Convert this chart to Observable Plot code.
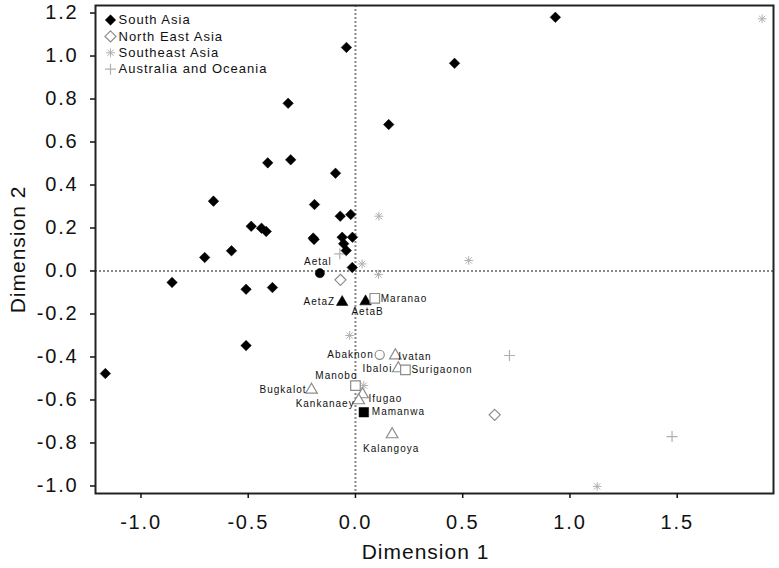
<!DOCTYPE html>
<html><head><meta charset="utf-8">
<script src="https://cdn.jsdelivr.net/npm/d3@7"></script>
<script src="https://cdn.jsdelivr.net/npm/@observablehq/plot@0.6"></script>
<style>
html,body{margin:0;padding:0;background:#fff;}
svg text{font-family:"Liberation Sans",Arial,Helvetica,sans-serif;letter-spacing:1px;}
g[aria-label="x-axis tick label"] text, g[aria-label="y-axis tick label"] text{letter-spacing:1.8px;}
</style></head><body><div id="chart"></div>
<script>
// ---- data ----
const groups = ["South Asia", "North East Asia", "Southeast Asia", "Australia and Oceania"];

const southAsiaX = [-0.314, 0.155, -0.409, -0.302, -0.093, -0.662, -0.191, -0.071, -0.022, -0.486, -0.438, -0.416, -0.197, -0.193, -0.062, -0.014, -0.055, -0.043, -0.578, -0.703, -0.015, -0.855, -0.510, -0.387, -0.510, -1.166, -0.042, 0.462, 0.932];
const southAsiaY = [0.780, 0.681, 0.503, 0.517, 0.455, 0.325, 0.309, 0.255, 0.263, 0.208, 0.199, 0.184, 0.153, 0.147, 0.157, 0.157, 0.127, 0.095, 0.094, 0.063, 0.016, -0.053, -0.085, -0.077, -0.347, -0.477, 1.040, 0.966, 1.180];

const northEastAsiaX = [0.649, -0.070];
const northEastAsiaY = [-0.669, -0.041];

const southeastAsiaX = [0.109, 0.528, 1.896, 1.127, 0.039, -0.027, 0.031, 0.107];
const southeastAsiaY = [0.255, 0.049, 1.173, -1.002, -0.533, -0.300, 0.033, -0.016];

const oceaniaX = [0.718, 1.476, -0.073];
const oceaniaY = [-0.393, -0.770, 0.080];

const popNames  = ["Aetal", "AetaZ", "AetaB", "Maranao", "Abaknon", "Ivatan", "Ibaloi", "Surigaonon", "Manobo", "Bugkalot", "Ifugao", "Kankanaey", "Mamanwa", "Kalangoya"];
const popX      = [-0.166, -0.062, 0.047, 0.090, 0.113, 0.186, 0.200, 0.233, 0.000, -0.205, 0.033, 0.015, 0.039, 0.171];
const popY      = [-0.010, -0.145, -0.142, -0.127, -0.390, -0.393, -0.453, -0.460, -0.533, -0.553, -0.574, -0.602, -0.657, -0.760];
const popShape  = ["circle", "triangle", "triangle", "square", "circle", "triangle", "triangle", "square", "square", "triangle", "triangle", "triangle", "square", "triangle"];
const popFilled = [true, true, true, false, false, false, false, false, false, false, false, false, true, false];

const xTicks = [-1.0, -0.5, 0.0, 0.5, 1.0, 1.5];
const yTicks = [-1.0, -0.8, -0.6, -0.4, -0.2, 0.0, 0.2, 0.4, 0.6, 0.8, 1.0, 1.2];

// ---- build tables ----
const zip = (xs, ys) => xs.map((x, i) => ({x, y: ys[i]}));
const southAsia = zip(southAsiaX, southAsiaY);
const northEastAsia = zip(northEastAsiaX, northEastAsiaY);
const southeastAsia = zip(southeastAsiaX, southeastAsiaY);
const oceania = zip(oceaniaX, oceaniaY);
const pops = popNames.map((name, i) => ({name, x: popX[i], y: popY[i], shape: popShape[i], filled: popFilled[i]}));

// ---- symbols ----
const diamond = {draw(ctx, size) { const s = Math.sqrt(size / 2); ctx.moveTo(0, -s); ctx.lineTo(s, 0); ctx.lineTo(0, s); ctx.lineTo(-s, 0); ctx.closePath(); }};
const star = {draw(ctx, size) { const r = Math.sqrt(size / Math.PI); const d = r * 0.72;
  ctx.moveTo(-r, 0); ctx.lineTo(r, 0); ctx.moveTo(0, -r); ctx.lineTo(0, r);
  ctx.moveTo(-d, -d); ctx.lineTo(d, d); ctx.moveTo(-d, d); ctx.lineTo(d, -d); }};
const plus = {draw(ctx, size) { const r = Math.sqrt(size / Math.PI);
  ctx.moveTo(-r, 0); ctx.lineTo(r, 0); ctx.moveTo(0, -r); ctx.lineTo(0, r); }};

const gray = "#8c8c8c";
const lightGray = "#b0b0b0";

const groupStyle = [
  {symbol: diamond, r: 4.2, fill: "black", stroke: "black", strokeWidth: 0.5},
  {symbol: diamond, r: 4.4, fill: "white", stroke: gray, strokeWidth: 1.2},
  {symbol: star, r: 4.4, fill: "none", stroke: lightGray, strokeWidth: 1},
  {symbol: plus, r: 5.5, fill: "none", stroke: lightGray, strokeWidth: 1.2}
];
const groupData = [southAsia, northEastAsia, southeastAsia, oceania];

const shapeR = {circle: 4.6, triangle: 4.3, square: 5.4};

const labelLayout = {
  Aetal: {anchor: "middle", dx: -2, dy: -11},
  AetaZ: {anchor: "end", dx: -7, dy: 0},
  AetaB: {anchor: "middle", dx: 2, dy: 10},
  Maranao: {anchor: "start", dx: 6, dy: 0},
  Abaknon: {anchor: "end", dx: -6, dy: 0},
  Ivatan: {anchor: "start", dx: 3, dy: 1},
  Ibaloi: {anchor: "end", dx: -6, dy: 0},
  Surigaonon: {anchor: "start", dx: 6, dy: 0},
  Manobo: {anchor: "end", dx: 2, dy: -10},
  Bugkalot: {anchor: "end", dx: -5, dy: 0},
  Ifugao: {anchor: "start", dx: 6, dy: 4},
  Kankanaey: {anchor: "end", dx: -4, dy: 3},
  Mamanwa: {anchor: "start", dx: 8, dy: 0},
  Kalangoya: {anchor: "middle", dx: -1, dy: 14}
};

const fmt = d => (Math.abs(d) < 1e-9 ? 0 : d).toFixed(1);

const marks = [];
// reference lines
marks.push(Plot.ruleX([0], {stroke: "#888", strokeWidth: 2, strokeDasharray: "2,2"}));
marks.push(Plot.ruleY([0], {stroke: "#888", strokeWidth: 2, strokeDasharray: "2,2"}));

// group points (draw light ones first)
[3, 2, 1, 0].forEach(g => {
  const s = groupStyle[g];
  marks.push(Plot.dot(groupData[g], {x: "x", y: "y", ...s}));
});

// labelled populations
["circle", "triangle", "square"].forEach(shape => {
  [false, true].forEach(filled => {
    const data = pops.filter(d => d.shape === shape && d.filled === filled);
    if (!data.length) return;
    marks.push(Plot.dot(data, {x: "x", y: "y", symbol: shape, r: shapeR[shape],
      fill: filled ? "black" : "white", stroke: filled ? "black" : gray, strokeWidth: filled ? 0.5 : 1.2}));
  });
});
pops.forEach(d => {
  const L = labelLayout[d.name];
  marks.push(Plot.text([d], {x: "x", y: "y", text: "name", textAnchor: L.anchor, dx: L.dx, dy: L.dy,
    fontSize: 10, fill: "#111", style: "letter-spacing:0.3px"}));
});

// legend
groups.forEach((name, i) => {
  const s = groupStyle[i];
  marks.push(Plot.dot([name], {frameAnchor: "top-left", dx: 15, dy: 14.5 + 16.4 * i, ...s}));
  marks.push(Plot.text([name], {frameAnchor: "top-left", dx: 23, dy: 14.5 + 16.4 * i, text: d => d,
    textAnchor: "start", lineAnchor: "middle", fontSize: 13, fill: "#111"}));
});

// frame and axes
marks.push(Plot.frame({stroke: "#222", strokeWidth: 2}));
marks.push(Plot.axisX({ticks: xTicks, tickFormat: fmt, tickSize: 5, tickPadding: 16, fontSize: 20, label: null, strokeWidth: 1.5}));
marks.push(Plot.axisY({ticks: yTicks, tickFormat: fmt, tickSize: 5, tickPadding: 12, fontSize: 20, label: null, strokeWidth: 1.5}));
marks.push(Plot.text(["Dimension 1"], {frameAnchor: "bottom", lineAnchor: "middle", textAnchor: "middle", dy: 59, dx: -9, text: d => d, fontSize: 21, fill: "#111"}));
marks.push(Plot.text(["Dimension 2"], {frameAnchor: "left", lineAnchor: "middle", textAnchor: "middle", dx: -77, text: d => d, rotate: -90, fontSize: 21, fill: "#111"}));

const chart = Plot.plot({
  width: 779, height: 568,
  marginLeft: 95, marginRight: 6, marginTop: 5, marginBottom: 75,
  x: {domain: [-1.212, 1.949]},
  y: {domain: [-1.035, 1.235]},
  style: {background: "white", color: "#111", fontFamily: "'Liberation Sans', Arial, sans-serif"},
  marks
});
document.getElementById("chart").appendChild(chart);
</script></body></html>
